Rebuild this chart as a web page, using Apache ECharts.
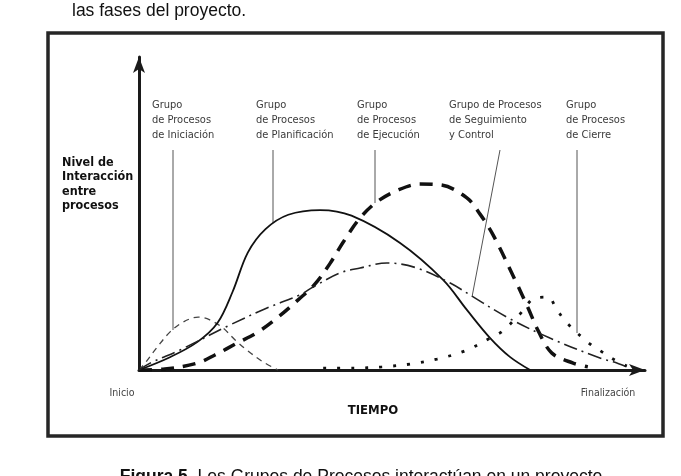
<!DOCTYPE html>
<html>
<head>
<meta charset="utf-8">
<script src="https://cdn.jsdelivr.net/npm/echarts@6/dist/echarts.min.js"></script>
<style>
html, body { margin: 0; padding: 0; background: #fff; }
#main { width: 681px; height: 476px; }
</style>
</head>
<body>
<div id="main"></div>
<script>
// eje x: tiempo del proyecto (0 = Inicio, 100 = Finalización)
// eje y: nivel de interacción entre procesos
var iniciacion = [[0,0],[1.2,2.2],[3.6,7.3],[6.1,12.1],[8.7,15.3],[11.7,16.9],[14.0,16.0],[16.6,13.4],[19.0,9.6],[21.3,6.4],[24.5,2.6],[27.5,0]];
var planificacion = [[0,0],[6,4],[11.5,8.9],[15.5,15],[18.5,25],[21.5,37.5],[25,45],[29.5,49.6],[35.8,51.1],[42,49.3],[51.6,40.6],[60.1,28.8],[64.8,19.2],[69.4,10.2],[73.3,4.2],[77.3,0]];
var ejecucion = [[0,0],[5.1,0.3],[11.5,2.2],[15.0,4.8],[19.4,8.6],[23.5,12.1],[27.5,16.9],[31.5,22.5],[34.8,27.5],[37.7,33.9],[40.5,41.2],[43.7,48.6],[47.0,53.7],[51.2,57.5],[55.5,59.4],[59.7,59.1],[64.8,55.0],[67.4,49.8],[70.0,43.1],[74.7,27.5],[76.9,19.8],[78.9,12.5],[81.6,5.4],[85.8,2.2],[88.7,1.0]];
var seguimiento = [[0,0],[2.2,2.2],[8.1,6.4],[18.0,14.4],[25.3,19.8],[31.8,24.0],[34.4,26.5],[39.7,31.0],[43.7,32.6],[49.0,34.2],[54.9,32.6],[61.5,27.8],[65.4,24.0],[72.7,16.9],[81.2,10.2],[91.1,3.8],[93.7,2.6],[96.4,1.0]];
var cierre = [[36.4,0.6],[42.3,0.6],[48.0,1.0],[53.6,1.9],[58.9,3.5],[64.4,6.1],[69.4,10.2],[71.9,12.5],[75.3,17.9],[78.3,23.0],[80.8,23.3],[82.6,19.2],[84.6,15.0],[88.9,8.6],[91.5,5.8],[93.7,3.5],[96.4,1.3]];

var grupos = ['Grupo\nde Procesos\nde Iniciación', 'Grupo\nde Procesos\nde Planificación', 'Grupo\nde Procesos\nde Ejecución', 'Grupo de Procesos\nde Seguimiento\ny Control', 'Grupo\nde Procesos\nde Cierre'];

var narrow = "'Liberation Sans Narrow', 'DejaVu Sans Condensed', sans-serif";

var myChart = echarts.init(document.getElementById('main'));

function curva(nombre, datos, ancho, tipo, color) {
    return {
        name: nombre,
        type: 'line',
        data: datos,
        smooth: 0.35,
        symbol: 'none',
        silent: true,
        lineStyle: { width: ancho, type: tipo, color: color, cap: 'butt' }
    };
}

var labelPos = [[152, 98], [256, 98], [357, 98], [449, 98], [566, 98]];
var leaders = [[173, 150, 173, 330], [273, 150, 273, 223], [375, 150, 375, 203], [500, 150, 472, 297], [577, 150, 577, 333]];

var graphic = [
    // marco
    { type: 'rect', shape: { x: 48, y: 33, width: 615, height: 403 }, style: { fill: 'none', stroke: '#262626', lineWidth: 3.5 } },
    { type: 'text', style: { text: 'las fases del proyecto.', x: 72, y: 11, font: '17.5px "Liberation Sans", Arial, sans-serif', fill: '#111', textVerticalAlign: 'middle' } },
    { type: 'text', style: {
        text: '{b|Figura 5.} Los Grupos de Procesos interactúan en un proyecto',
        x: 361, y: 468, textAlign: 'center', textVerticalAlign: 'top',
        font: '17.5px "Liberation Sans", Arial, sans-serif', fill: '#111',
        rich: { b: { fontWeight: 'bold', fontSize: 17.5, fontFamily: '"Liberation Sans", Arial, sans-serif' } }
    } },
    { type: 'text', style: { text: 'Nivel de\nInteracción\nentre\nprocesos', x: 62, y: 155, font: 'bold 12.5px ' + narrow, fill: '#111', lineHeight: 14.5 } },
    { type: 'text', style: { text: 'Inicio', x: 122, y: 393, textAlign: 'center', textVerticalAlign: 'middle', font: '10.5px ' + narrow, fill: '#444' } },
    { type: 'text', style: { text: 'Finalización', x: 608, y: 393, textAlign: 'center', textVerticalAlign: 'middle', font: '10.5px ' + narrow, fill: '#444' } },
    { type: 'text', style: { text: 'TIEMPO', x: 373, y: 411, textAlign: 'center', textVerticalAlign: 'middle', font: 'bold 13px ' + narrow, fill: '#111' } }
];

grupos.forEach(function (g, i) {
    graphic.push({ type: 'text', style: { text: g, x: labelPos[i][0], y: labelPos[i][1], font: '11px ' + narrow, fill: '#3a3a3a', lineHeight: 15 } });
    var l = leaders[i];
    graphic.push({ type: 'line', shape: { x1: l[0], y1: l[1], x2: l[2], y2: l[3] }, style: { stroke: '#555', lineWidth: 1 } });
});

var eje = {
    show: true,
    symbol: ['none', 'arrow'],
    symbolSize: [9, 16],
    lineStyle: { color: '#1a1a1a', width: 3 }
};

var option = {
    animation: false,
    backgroundColor: '#fff',
    grid: { left: 139, top: 57, width: 506, height: 313 },
    xAxis: {
        type: 'value', min: 0, max: 100,
        axisLine: eje, axisTick: { show: false }, axisLabel: { show: false }, splitLine: { show: false }
    },
    yAxis: {
        type: 'value', min: 0, max: 100,
        axisLine: eje, axisTick: { show: false }, axisLabel: { show: false }, splitLine: { show: false }
    },
    graphic: graphic,
    series: [
        curva('Iniciación', iniciacion, 1.3, [6, 5], '#444'),
        curva('Planificación', planificacion, 1.8, 'solid', '#111'),
        curva('Ejecución', ejecucion, 3.5, [13, 9], '#111'),
        curva('Seguimiento y Control', seguimiento, 1.6, [14, 5, 2, 5], '#222'),
        curva('Cierre', cierre, 2.8, [3, 11], '#111')
    ]
};

myChart.setOption(option);
</script>
</body>
</html>
